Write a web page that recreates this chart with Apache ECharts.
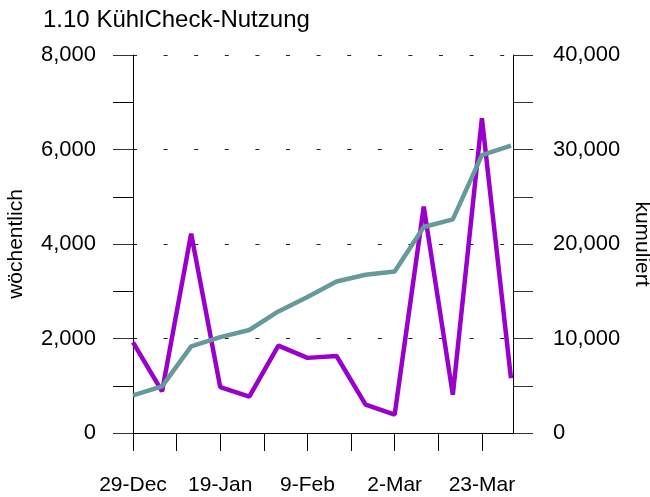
<!DOCTYPE html>
<html lang="de">
<head>
    <meta charset="UTF-8">
    <script src="https://cdn.jsdelivr.net/npm/echarts@6/dist/echarts.min.js"></script>
    <title>KühlCheck-Nutzung</title>
    <style>
        html, body { margin: 0; padding: 0; background: #fff; }
    </style>
</head>
<body>
<div id="main" style="width: 650px;height:497px;"></div>
<script type="text/javascript">
    // Wochen (x-Achse als Index 0..13)
    var weekLabels = ['29-Dec', '5-Jan', '12-Jan', '19-Jan', '26-Jan', '2-Feb', '9-Feb',
        '16-Feb', '23-Feb', '2-Mar', '9-Mar', '16-Mar', '23-Mar', '30-Mar'];
    // wöchentliche Nutzung (linke Achse)
    var weekly = [1920, 880, 4220, 970, 770, 1850, 1590, 1630, 600, 390, 4790, 810, 6660, 1160];
    // kumulierte Nutzung (rechte Achse)
    var cumulative = [3980, 4930, 9160, 10150, 10900, 12860, 14400, 16030, 16740, 17090, 21800, 22600, 29400, 30400];
    // Teilstriche und Beschriftungen der x-Achse
    var xTicks = [0, 1.5, 3, 4.5, 6, 7.5, 9, 10.5, 12];
    var xLabels = [0, 3, 6, 9, 12];

    var font = 'Liberation Sans, Arial, sans-serif';
    var myChart = echarts.init(document.getElementById('main'));

    var option = {
        animation: false,
        title: {
            text: '1.10 KühlCheck-Nutzung',
            left: 38,
            top: 3,
            textStyle: { fontSize: 24, fontWeight: 'normal', color: '#000', fontFamily: font }
        },
        grid: { left: 133, right: 137, top: 55, bottom: 64, outerBoundsMode: 'none', containLabel: false },
        xAxis: {
            type: 'value',
            min: 0,
            max: 13.07,
            axisLine: { show: true, onZero: false, lineStyle: { color: '#000', width: 1 } },
            axisTick: { show: true, length: 18, customValues: xTicks, lineStyle: { color: '#000' } },
            axisLabel: {
                customValues: xLabels,
                margin: 42,
                fontSize: 21,
                color: '#000',
                fontFamily: font,
                formatter: function (v) { return weekLabels[Math.round(v)] || ''; }
            },
            splitLine: { show: false }
        },
        yAxis: [
            {
                type: 'value',
                name: 'wöchentlich',
                nameLocation: 'middle',
                nameGap: 106,
                nameTextStyle: { fontSize: 21, color: '#000', fontFamily: font },
                min: 0,
                max: 8000,
                interval: 2000,
                position: 'left',
                axisLine: { show: true, lineStyle: { color: '#000', width: 1 } },
                axisTick: { show: true, length: 20, lineStyle: { color: '#333' } },
                minorTick: { show: true, splitNumber: 2, length: 20, lineStyle: { color: '#000' } },
                axisLabel: {
                    margin: 37,
                    fontSize: 22,
                    color: '#000',
                    fontFamily: font,
                    formatter: function (v) { return v.toLocaleString('en-US'); }
                },
                splitLine: { show: true, lineStyle: { color: '#222', width: 1, type: [4, 26.6] } }
            },
            {
                type: 'value',
                name: 'kumuliert',
                nameLocation: 'middle',
                nameGap: 110,
                nameRotate: -90,
                nameTextStyle: { fontSize: 21, color: '#000', fontFamily: font },
                min: 0,
                max: 40000,
                interval: 10000,
                position: 'right',
                axisLine: { show: true, lineStyle: { color: '#000', width: 1 } },
                axisTick: { show: true, length: 20, lineStyle: { color: '#333' } },
                minorTick: { show: true, splitNumber: 2, length: 20, lineStyle: { color: '#333' } },
                axisLabel: {
                    margin: 40,
                    fontSize: 22,
                    color: '#000',
                    fontFamily: font,
                    formatter: function (v) { return v.toLocaleString('en-US'); }
                },
                splitLine: { show: false }
            }
        ],
        series: [
            {
                name: 'wöchentlich',
                type: 'line',
                yAxisIndex: 0,
                symbol: 'none',
                lineStyle: { color: '#9900CC', width: 4.5 },
                data: weekly.map(function (v, i) { return [i, v]; })
            },
            {
                name: 'kumuliert',
                type: 'line',
                yAxisIndex: 1,
                symbol: 'none',
                lineStyle: { color: '#669999', width: 4.5 },
                data: cumulative.map(function (v, i) { return [i, v]; })
            }
        ]
    };

    myChart.setOption(option);
</script>
</body>
</html>
